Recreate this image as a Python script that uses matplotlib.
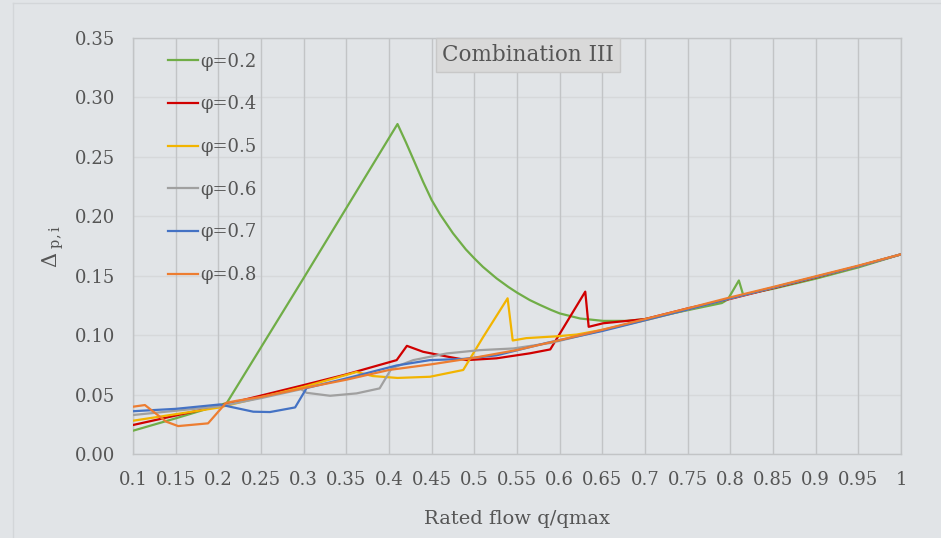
'''
    Pressure deviation vs rated flow, combination III
'''

from matplotlib import pyplot as plt
from matplotlib.lines import Line2D

# ---- data --------------------------------------------------------
phi_labels = ['φ=0.2', 'φ=0.4', 'φ=0.5', 'φ=0.6', 'φ=0.7', 'φ=0.8']

x_02 = [0.1, 0.15, 0.21, 0.30, 0.41, 0.42, 0.4285, 0.44, 0.45, 0.46, 0.475,
        0.49, 0.5, 0.51, 0.526, 0.54, 0.55, 0.565, 0.577, 0.59, 0.6, 0.624,
        0.651, 0.679, 0.7, 0.75, 0.79, 0.797, 0.81, 0.815, 0.85, 0.9, 0.95, 1.0]
y_02 = [0.0196, 0.030, 0.043, 0.148, 0.2776, 0.262, 0.248, 0.229, 0.2137,
        0.2015, 0.1857, 0.1722, 0.1646, 0.1575, 0.1478, 0.1405, 0.1358, 0.1295,
        0.1254, 0.1212, 0.1183, 0.1140, 0.1120, 0.1120, 0.1135, 0.121, 0.127,
        0.130, 0.146, 0.134, 0.139, 0.1475, 0.157, 0.168]

x_04 = [0.1, 0.2, 0.3, 0.35, 0.409, 0.421, 0.44, 0.468, 0.491, 0.526, 0.565,
        0.589, 0.63, 0.634, 0.651, 0.679, 0.7, 0.75, 0.8, 0.85, 0.9, 0.95, 1.0]
y_04 = [0.0244, 0.0403, 0.058, 0.067, 0.079, 0.091, 0.086, 0.082, 0.079,
        0.0805, 0.0847, 0.088, 0.1366, 0.107, 0.110, 0.112, 0.1135, 0.1225,
        0.1305, 0.1395, 0.1485, 0.158, 0.168]

x_05 = [0.1, 0.2, 0.3, 0.362, 0.381, 0.41, 0.448, 0.487, 0.51, 0.539, 0.545,
        0.561, 0.596, 0.62, 0.65, 0.7, 0.75, 0.8, 0.85, 0.9, 0.95, 1.0]
y_05 = [0.028, 0.039, 0.0565, 0.069, 0.0656, 0.064, 0.065, 0.0707, 0.098,
        0.131, 0.0955, 0.0975, 0.099, 0.1005, 0.1045, 0.1125, 0.1215, 0.131,
        0.14, 0.149, 0.158, 0.168]

x_06 = [0.1, 0.2, 0.25, 0.297, 0.3035, 0.331, 0.362, 0.389, 0.403, 0.4285,
        0.4676, 0.5066, 0.5457, 0.59, 0.65, 0.7, 0.75, 0.8, 0.85, 0.9, 0.95, 1.0]
y_06 = [0.0328, 0.040, 0.047, 0.0545, 0.0515, 0.049, 0.051, 0.0552, 0.072,
        0.079, 0.0846, 0.0874, 0.0888, 0.0935, 0.104, 0.113, 0.122, 0.131,
        0.14, 0.149, 0.158, 0.168]

x_07 = [0.1, 0.15, 0.202, 0.2137, 0.241, 0.2605, 0.29, 0.3035, 0.35, 0.409,
        0.448, 0.487, 0.526, 0.585, 0.65, 0.7, 0.75, 0.8, 0.85, 0.9, 0.95, 1.0]
y_07 = [0.036, 0.038, 0.0417, 0.0398, 0.0356, 0.0353, 0.0392, 0.0555, 0.0636,
        0.0745, 0.079, 0.080, 0.083, 0.0935, 0.1035, 0.1125, 0.1215, 0.131,
        0.14, 0.149, 0.158, 0.168]

x_08 = [0.1, 0.114, 0.139, 0.153, 0.188, 0.209, 0.2215, 0.25, 0.3, 0.35, 0.4,
        0.45, 0.5, 0.55, 0.6, 0.65, 0.7, 0.75, 0.8, 0.85, 0.9, 0.95, 1.0]
y_08 = [0.0398, 0.0412, 0.0272, 0.0235, 0.0258, 0.043, 0.0448, 0.048, 0.0554,
        0.0625, 0.0707, 0.0755, 0.081, 0.0875, 0.0958, 0.1045, 0.1135, 0.1225,
        0.1318, 0.1405, 0.1495, 0.1585, 0.168]

x_ticks = [0.1, 0.15, 0.2, 0.25, 0.3, 0.35, 0.4, 0.45, 0.5, 0.55, 0.6, 0.65,
           0.7, 0.75, 0.8, 0.85, 0.9, 0.95, 1.0]
x_ticklabels = ['0.1', '0.15', '0.2', '0.25', '0.3', '0.35', '0.4', '0.45',
                '0.5', '0.55', '0.6', '0.65', '0.7', '0.75', '0.8', '0.85',
                '0.9', '0.95', '1']
y_ticks = [0.0, 0.05, 0.10, 0.15, 0.20, 0.25, 0.30, 0.35]

COLORS = ['#70AD47', '#D00000', '#F2B400', '#A0A0A0', '#4472C4', '#ED7D31']
BG = '#e1e4e7'
TXT = '#555555'


def main():
    plt.rcParams['font.family'] = ['DejaVu Serif']
    plt.rcParams['mathtext.fontset'] = 'dejavuserif'

    fig = plt.figure(figsize=(9.41, 5.38), dpi=100, facecolor=BG)
    ax = fig.add_axes([0.1413, 0.1561, 0.8162, 0.7733])
    ax.set_facecolor(BG)

    # faint outer chart border
    fig.add_artist(Line2D([13/941, 13/941], [0, 1 - 3/538], transform=fig.transFigure,
                          color='#d3d6d9', lw=1.0))
    fig.add_artist(Line2D([13/941, 1], [1 - 3/538, 1 - 3/538], transform=fig.transFigure,
                          color='#d3d6d9', lw=1.0))

    series = [(x_02, y_02), (x_04, y_04), (x_05, y_05),
              (x_06, y_06), (x_07, y_07), (x_08, y_08)]
    handles = []
    for (xs, ys), c, lab in zip(series, COLORS, phi_labels):
        h, = ax.plot(xs, ys, color=c, lw=1.6, label=lab, solid_joinstyle='round',
                     zorder=3)
        handles.append(h)

    ax.set_xlim(0.1, 1.0)
    ax.set_ylim(0.0, 0.35)
    ax.set_xticks(x_ticks)
    ax.set_xticklabels(x_ticklabels)
    ax.set_yticks(y_ticks)
    ax.set_yticklabels(['{:.2f}'.format(v) for v in y_ticks])
    ax.tick_params(axis='both', length=0, labelsize=13, colors=TXT)
    ax.tick_params(axis='x', pad=12)
    ax.tick_params(axis='y', pad=13)

    for xv in x_ticks:
        ax.axvline(xv, color='#c2c4c6', lw=1.0, zorder=1)
    for yv in y_ticks:
        ax.axhline(yv, color='#d6d8da', lw=1.0, zorder=0.5)
    for s in ax.spines.values():
        s.set_color('#c2c4c6')
        s.set_linewidth(1.0)

    ax.set_xlabel('Rated flow q/qmax', fontsize=14, color=TXT, labelpad=15)
    ax.set_ylabel(r'$\Delta_{\ \mathrm{p,i}}$', fontsize=15, color=TXT, labelpad=6)

    ax.text(0.514, 0.96, 'Combination III', transform=ax.transAxes,
            ha='center', va='center', fontsize=15.5, color=TXT, zorder=5,
            bbox=dict(boxstyle='square,pad=0.28', facecolor='#d9d9d9',
                      edgecolor='#c8c8c8', lw=1.0))

    ax.legend(handles=handles, loc='upper left', bbox_to_anchor=(0.045, 0.965),
              frameon=False, fontsize=13, labelcolor=TXT, handlelength=1.7,
              handletextpad=0.1, labelspacing=1.37, borderaxespad=0, borderpad=0)

    fig.savefig('out.png', dpi=100, facecolor=BG)
    plt.close(fig)


if __name__ == '__main__': main()
